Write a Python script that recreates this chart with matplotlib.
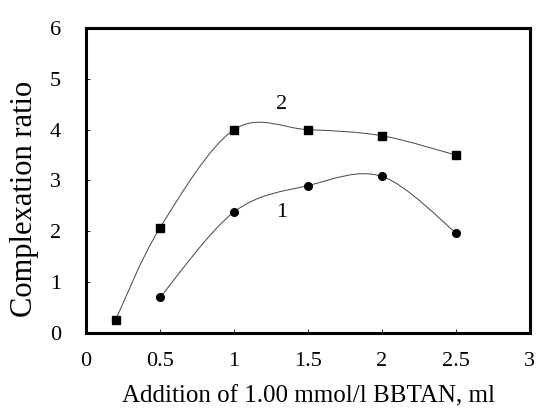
import matplotlib
matplotlib.use("Agg")
import matplotlib.pyplot as plt
from matplotlib.path import Path
from matplotlib.patches import PathPatch
import numpy as np

# curve 1 (circles) and curve 2 (squares)
x1 = [0.5, 1.0, 1.5, 2.0, 2.5]
y1 = [0.70, 2.38, 2.90, 3.08, 1.97]
x2 = [0.2, 0.5, 1.0, 1.5, 2.0, 2.5]
y2 = [0.26, 2.07, 4.00, 4.00, 3.88, 3.50]

plt.rcParams['font.family'] = ['Liberation Serif', 'DejaVu Serif']


def smooth_path(xs, ys):
    # excel style smoothed line: cubic bezier, catmull-rom control points
    pts = np.column_stack([xs, ys])
    n = len(pts)
    verts = [pts[0]]
    codes = [Path.MOVETO]
    for i in range(n - 1):
        p0 = pts[i - 1] if i > 0 else pts[i]
        p1 = pts[i]
        p2 = pts[i + 1]
        p3 = pts[i + 2] if i + 2 < n else pts[i + 1]
        c1 = p1 + (p2 - p0) / 6.0
        c2 = p2 - (p3 - p1) / 6.0
        verts += [c1, c2, p2]
        codes += [Path.CURVE4] * 3
    return Path(verts, codes)


fig = plt.figure(figsize=(5.38, 4.13), dpi=100)
ax = fig.add_axes([0.16, 0.194, 0.825, 0.738])

for xs, ys in [(x1, y1), (x2, y2)]:
    ax.add_patch(PathPatch(smooth_path(xs, ys), fill=False, edgecolor='#444444', lw=0.7))

ax.plot(x1, y1, linestyle='none', marker='o', markersize=5.5, color='black')
ax.plot(x2, y2, linestyle='none', marker='s', markersize=5.5, color='black')

ax.text(1.32, 4.5, '2', fontsize=16, ha='center', va='center')
ax.text(1.32, 2.36, '1', fontsize=16, ha='center', va='center')

ax.set_xlim(0, 3)
ax.set_ylim(0, 6)
ax.set_xticks([0, 0.5, 1, 1.5, 2, 2.5, 3])
ax.set_xticklabels(['0', '0.5', '1', '1.5', '2', '2.5', '3'])
ax.set_yticks(range(7))
ax.tick_params(direction='in', length=3, width=0.6, labelsize=16, pad=14)
ax.tick_params(axis='y', pad=18)
for s in ax.spines.values():
    s.set_linewidth(2.2)

ax.set_xlabel('Addition of 1.00 mmol/l BBTAN, ml', fontsize=18, labelpad=10)
ax.set_ylabel('Complexation ratio', fontsize=22)
ax.yaxis.set_label_coords(-0.105, 0.44)

fig.savefig('out.png', dpi=100)
